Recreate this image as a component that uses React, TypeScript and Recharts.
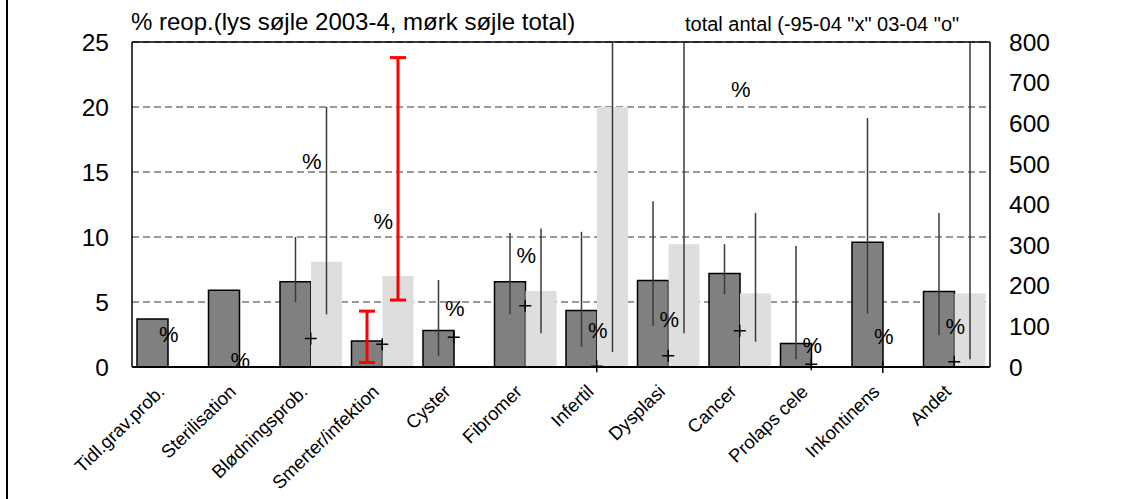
import React from 'react';
import {
  ComposedChart,
  Bar,
  ErrorBar,
  Scatter,
  XAxis,
  YAxis,
  CartesianGrid,
  ReferenceLine,
} from 'recharts';

const FONT = '"Liberation Sans", Arial, Helvetica, sans-serif';

const categories = [
  'Tidl.grav.prob.',
  'Sterilisation',
  'Blødningsprob.',
  'Smerter/infektion',
  'Cyster',
  'Fibromer',
  'Infertil',
  'Dysplasi',
  'Cancer',
  'Prolaps cele',
  'Inkontinens',
  'Andet',
];

// % reoperation, all years (dark) and 2003-4 (light)
const totalPct = [3.7, 5.9, 6.55, 2.0, 2.8, 6.55, 4.35, 6.65, 7.2, 1.8, 9.6, 5.8];
const recentPct = [0, 0, 8.1, 7.0, 0, 5.85, 20.0, 9.45, 5.65, 0, 0, 5.65];

// interval bounds (low / high) for the dark and light bars
const totalLow = [null, null, 5.0, 0.35, 0.85, 4.05, 1.55, 3.15, 5.6, 0.6, 4.1, 2.45];
const totalHigh = [null, null, 10.0, 4.3, 6.7, 10.3, 10.4, 12.75, 9.45, 9.3, 19.15, 11.85];
const recentLow = [null, null, 4.05, 5.15, 0, 2.6, 1.15, 2.6, 1.95, 0, null, 0.6];
const recentHigh = [null, null, 20.0, 23.8, 4.6, 10.65, 25, 25, 11.85, 25, null, 25];

// highlighted category (red intervals)
const highlightIndex = 3;

// counts on right axis
const countAll = [79, 17, 505, 357, 144, 274, 91, 118, 683, 54, 75, 99]; // "%" markers
const count0304 = [null, null, 70, 56, 73, 151, 2, 28, 89, 7, 0, 13]; // "+" markers

const leftTicks = [0, 5, 10, 15, 20, 25];
const rightTicks = [0, 100, 200, 300, 400, 500, 600, 700, 800];

const err = (v: number, lo: number | null, hi: number | null) =>
  lo == null || hi == null ? undefined : [v - lo, hi - v];

const data = categories.map((name, i) => ({
  name,
  total: totalPct[i],
  recent: recentPct[i],
  errTotal: i !== highlightIndex ? err(totalPct[i], totalLow[i], totalHigh[i]) : undefined,
  errTotalRed: i === highlightIndex ? err(totalPct[i], totalLow[i], totalHigh[i]) : undefined,
  errRecent: i !== highlightIndex ? err(recentPct[i], recentLow[i], recentHigh[i]) : undefined,
  errRecentRed: i === highlightIndex ? err(recentPct[i], recentLow[i], recentHigh[i]) : undefined,
  cntAll: countAll[i],
  cnt0304: count0304[i],
}));

const valid = (cx: any, cy: any) =>
  typeof cx === 'number' && typeof cy === 'number' && !isNaN(cx) && !isNaN(cy);

const PlusMarker = (props: any) => {
  const { cx, cy, payload } = props;
  if (!valid(cx, cy) || payload?.cnt0304 == null) return <g />;
  return (
    <path
      d={`M${cx - 6},${cy}H${cx + 6}M${cx},${cy - 6}V${cy + 6}`}
      stroke="#000"
      strokeWidth={1.5}
      fill="none"
    />
  );
};

const PercentMarker = (props: any) => {
  const { cx, cy, payload } = props;
  if (!valid(cx, cy) || payload?.cntAll == null) return <g />;
  return (
    <text
      x={cx + 1}
      y={cy}
      textAnchor="middle"
      dominantBaseline="central"
      fontSize={22}
      fontFamily={FONT}
      fill="#000"
    >
      %
    </text>
  );
};

const CategoryTick = (props: any) => {
  const { x, y, payload } = props;
  const ax = x - 2;
  const ay = y + 24;
  return (
    <text
      x={ax}
      y={ay}
      textAnchor="end"
      transform={`rotate(-44 ${ax} ${ay})`}
      fontSize={18.5}
      fontFamily={FONT}
      fill="#000"
    >
      {payload.value}
    </text>
  );
};

export default function App() {
  return (
    <div
      style={{
        position: 'absolute',
        left: 0,
        top: 0,
        width: 1128,
        height: 499,
        background: '#fff',
        overflow: 'hidden',
        fontFamily: FONT,
      }}
    >
      <div
        style={{
          position: 'absolute',
          left: 6,
          top: 0,
          width: 2,
          height: 499,
          background: '#000',
        }}
      />
      <div
        style={{
          position: 'absolute',
          left: 131,
          top: 7,
          fontSize: 24,
          lineHeight: '29px',
          color: '#000',
          whiteSpace: 'nowrap',
        }}
      >
        % reop.(lys søjle 2003-4, mørk søjle total)
      </div>
      <div
        style={{
          position: 'absolute',
          left: 685,
          top: 11,
          fontSize: 20,
          lineHeight: '26px',
          color: '#000',
          whiteSpace: 'nowrap',
        }}
      >
        total antal (-95-04 "x" 03-04 "o"
      </div>
      <div style={{ position: 'absolute', left: 0, top: 0 }}>
        <ComposedChart
          width={1128}
          height={499}
          data={data}
          margin={{ top: 42, right: 0, bottom: 32, left: 0 }}
          barCategoryGap={5}
          barGap={0}
        >
          <CartesianGrid
            yAxisId="left"
            vertical={false}
            stroke="#333"
            strokeDasharray="7 4"
            strokeWidth={1}
          />
          <XAxis
            dataKey="name"
            interval={0}
            height={100}
            tickLine={false}
            tickSize={0}
            tick={<CategoryTick />}
            axisLine={{ stroke: '#000', strokeWidth: 2 }}
          />
          <YAxis
            yAxisId="left"
            orientation="left"
            width={132}
            domain={[0, 25]}
            ticks={leftTicks}
            tickLine={false}
            tickSize={0}
            tickMargin={23}
            axisLine={{ stroke: '#000', strokeWidth: 1.5 }}
            tick={{ fill: '#000', fontSize: 24.5, fontFamily: FONT }}
          />
          <YAxis
            yAxisId="right"
            orientation="right"
            width={138}
            domain={[0, 800]}
            ticks={rightTicks}
            tickLine={false}
            tickSize={0}
            tickMargin={19}
            axisLine={{ stroke: '#000', strokeWidth: 1.5 }}
            tick={{ fill: '#000', fontSize: 24.5, fontFamily: FONT, textAnchor: 'start' }}
          />
          <ReferenceLine yAxisId="left" y={25} stroke="#000" strokeWidth={1.5} />
          <Bar
            yAxisId="left"
            dataKey="total"
            fill="#808080"
            stroke="#000"
            strokeWidth={1.5}
            isAnimationActive={false}
          >
            <ErrorBar dataKey="errTotal" width={0} stroke="#3a3a3a" strokeWidth={1.5} direction="y" />
            <ErrorBar dataKey="errTotalRed" width={8} stroke="#ff0000" strokeWidth={3} direction="y" />
          </Bar>
          <Bar yAxisId="left" dataKey="recent" fill="#dedede" isAnimationActive={false}>
            <ErrorBar dataKey="errRecent" width={0} stroke="#3a3a3a" strokeWidth={1.5} direction="y" />
            <ErrorBar dataKey="errRecentRed" width={8} stroke="#ff0000" strokeWidth={3} direction="y" />
          </Bar>
          <Scatter
            yAxisId="right"
            dataKey="cnt0304"
            shape={<PlusMarker />}
            isAnimationActive={false}
          />
          <Scatter
            yAxisId="right"
            dataKey="cntAll"
            shape={<PercentMarker />}
            isAnimationActive={false}
          />
        </ComposedChart>
      </div>
    </div>
  );
}
